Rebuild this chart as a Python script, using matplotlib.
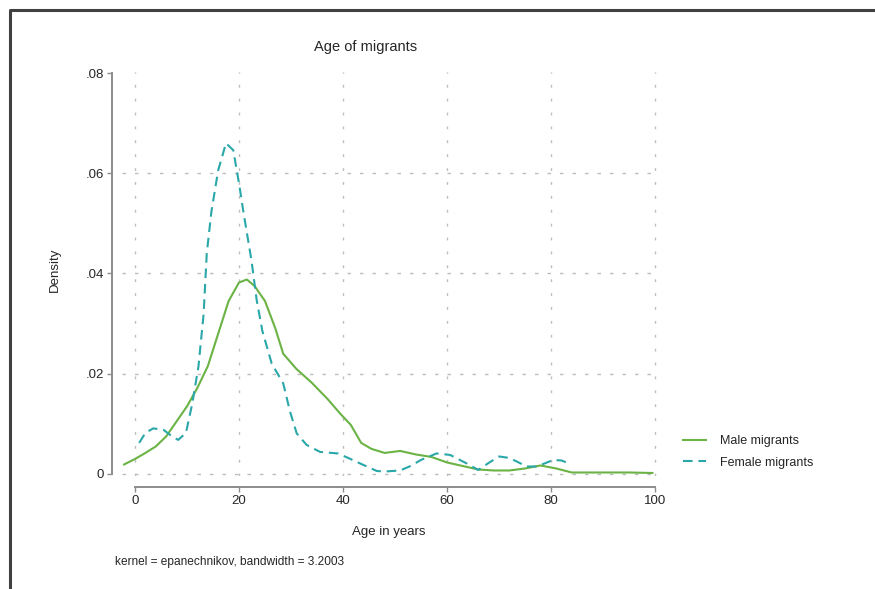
import matplotlib

matplotlib.use("Agg")
import matplotlib.pyplot as plt
from matplotlib.lines import Line2D

plt.rcParams["font.family"] = ["Liberation Sans", "DejaVu Sans"]

# kernel density estimates (epanechnikov), age in years
male_age = [-2.1, 0, 2, 4, 6, 8, 10, 12, 14, 16, 18, 20, 21.5, 23, 25, 27,
            28.5, 31, 34, 37, 39.5, 41.5, 43.5, 45.5, 48, 51, 54, 57, 60, 63,
            66, 69, 72, 75, 78, 81, 84, 90, 95, 99.5]
male_density = [0.0019, 0.0030, 0.0042, 0.0055, 0.0075, 0.0105, 0.0135, 0.0172,
                0.0215, 0.0280, 0.0345, 0.0382, 0.0388, 0.0375, 0.0345, 0.0290,
                0.0240, 0.0210, 0.0182, 0.0150, 0.0120, 0.0098, 0.0062, 0.0050,
                0.0042, 0.0046, 0.0039, 0.0034, 0.0023, 0.0016, 0.0009, 0.0007,
                0.0007, 0.0011, 0.0017, 0.0011, 0.0003, 0.0003, 0.0003, 0.0002]

female_age = [0.8, 2, 3.5, 5.5, 7, 8.3, 9.8, 11, 12.2, 13.2, 13.8, 14.7, 16,
              17.5, 18.9, 20, 20.8, 22.4, 23.4, 24.5, 26.3, 28.5, 29.8, 31.1,
              33, 35.6, 39, 41, 43.3, 46.5, 48, 51, 53, 55, 58, 60.6, 63.8, 66,
              68, 70, 72, 73.4, 75.3, 77.2, 79, 80.4, 82, 83.5]
female_density = [0.0062, 0.0082, 0.0091, 0.0088, 0.0076, 0.0068, 0.0082,
                  0.0140, 0.0214, 0.0320, 0.0440, 0.0524, 0.0606, 0.0660,
                  0.0646, 0.0580, 0.0526, 0.0426, 0.0347, 0.0285, 0.0220,
                  0.0181, 0.0125, 0.0081, 0.0058, 0.0044, 0.0041, 0.0032,
                  0.0021, 0.0006, 0.0005, 0.0007, 0.0016, 0.0028, 0.0041,
                  0.0038, 0.0021, 0.0008, 0.0022, 0.0035, 0.0032, 0.0025,
                  0.0015, 0.0015, 0.0022, 0.0028, 0.0027, 0.0021]

x_ticks = [0, 20, 40, 60, 80, 100]
y_ticks = [0, 0.02, 0.04, 0.06, 0.08]
y_ticklabels = ["0", ".02", ".04", ".06", ".08"]
y_grid = [0, 0.02, 0.04, 0.06]

male_color = "#6ab344"
female_color = "#2aa7a8"
axis_color = "#8c8c8c"
grid_color = "#bdbdbd"
text_color = "#262626"

W, H = 875, 589
fig = plt.figure(figsize=(W / 100, H / 100), dpi=100)
ax = fig.add_axes([122 / W, 1 - 476 / H, 535.6 / W, 404 / H])
ax.set_xlim(-2.5, 100.5)
ax.set_ylim(-0.0004, 0.0802)

# dotted grid
for xv in x_ticks:
    ax.axvline(xv, color=grid_color, lw=1.0, ls=(0, (2, 8)), zorder=0)
for yv in y_grid:
    ax.axhline(yv, color=grid_color, lw=1.0, ls=(0, (2.5, 6.5)), zorder=0)

ax.plot(male_age, male_density, color=male_color, lw=1.5,
        label="Male migrants", zorder=3)
ax.plot(female_age, female_density, color=female_color, lw=1.5,
        ls=(0, (4.6, 2.8)), label="Female migrants", zorder=3)

# Stata-style detached axes
for side in ("top", "right"):
    ax.spines[side].set_visible(False)
ax.spines["left"].set_position(("outward", 7.2))
ax.spines["bottom"].set_position(("outward", 8))
ax.spines["left"].set_bounds(0, 0.08)
ax.spines["bottom"].set_bounds(0, 100)
for side in ("left", "bottom"):
    ax.spines[side].set_color(axis_color)
    ax.spines[side].set_linewidth(1.4)

ax.set_xticks(x_ticks)
ax.set_yticks(y_ticks)
ax.set_yticklabels(y_ticklabels)
ax.tick_params(axis="both", colors=axis_color, length=3.5, width=1.0,
               labelsize=9.5, labelcolor=text_color, pad=2.5)

fig.text(366 / W, 1 - 47 / H, "Age of migrants", ha="center", va="center",
         fontsize=10.5, color=text_color)
fig.text(389 / W, 1 - 532 / H, "Age in years", ha="center", va="center",
         fontsize=9.5, color=text_color)
fig.text(55 / W, 1 - 270 / H, "Density", ha="center", va="center",
         rotation=90, fontsize=9.5, color=text_color)
fig.text(115 / W, 1 - 562 / H, "kernel = epanechnikov, bandwidth = 3.2003",
         ha="left", va="center", fontsize=8.6, color=text_color)

fig.legend(loc="center left", bbox_to_anchor=(683 / W, 1 - 452 / H),
           frameon=False, fontsize=9, handlelength=1.85, handletextpad=1.1,
           labelspacing=0.75, borderpad=0, borderaxespad=0,
           labelcolor=text_color)

# outer frame (top and left edges visible)
fig.add_artist(Line2D([10 / W, 10 / W, 1.01], [-0.01, 1 - 10 / H, 1 - 10 / H],
                      transform=fig.transFigure, color="#404040", lw=2.2))

fig.savefig("out.png", dpi=100)
